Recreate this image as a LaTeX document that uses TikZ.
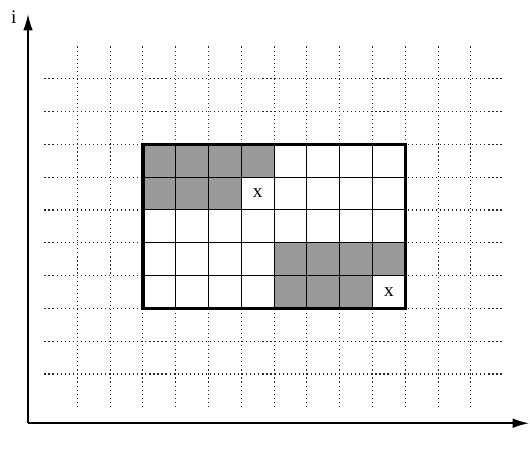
\documentclass[tikz,border=0pt]{standalone}
\usepackage{fontspec}
\setmainfont{Liberation Serif}
\usetikzlibrary{arrows.meta}
\definecolor{CellGray}{RGB}{153,153,153}
\tikzset{
  gridline/.style={draw=black!85,dash pattern=on 0.6pt off 1.5pt,line width=0.55pt},
  cellline/.style={draw=black,line width=0.5pt},
  border/.style={draw=black,line width=1.8pt},
  axis/.style={draw=black,line width=0.8pt,-{Latex[length=8.5pt,width=5pt]}},
  cellmark/.style={inner sep=0pt,font=\normalsize},
}

\begin{document}
\begin{tikzpicture}[x=0.6cm,y=0.6cm]
  \useasboundingbox (-0.854,-0.884) rectangle (15.30,12.90);
  % dotted background grid
  \foreach \x in {1.5,2.5,...,13.5} \draw[gridline] (\x,0.5) -- (\x,11.5);
  \foreach \y in {1.5,2.5,...,10.5} \draw[gridline] (0.5,\y) -- (14.5,\y);
  % window
  \fill[white] (3.5,3.5) rectangle (11.5,8.5);
  \fill[CellGray] (3.5,8.5) -- (7.5,8.5) -- (7.5,7.5) -- (6.5,7.5) -- (6.5,6.5) -- (3.5,6.5) -- cycle;
  \fill[CellGray] (7.5,5.5) -- (11.5,5.5) -- (11.5,4.5) -- (10.5,4.5) -- (10.5,3.5) -- (7.5,3.5) -- cycle;
  \foreach \x in {4.5,5.5,...,10.5} \draw[cellline] (\x,3.5) -- (\x,8.5);
  \foreach \y in {4.5,5.5,...,7.5} \draw[cellline] (3.5,\y) -- (11.5,\y);
  \draw[border] (3.5,3.5) rectangle (11.5,8.5);
  \node[cellmark] (xa) at (7,7) {x};
  \node[cellmark] (xb) at (11,4) {x};
  % axes
  \coordinate (o) at (0,0);
  \coordinate (itip) at (0,12.47);
  \coordinate (jtip) at (15.27,0);
  \draw[axis] (o) -- (itip);
  \draw[axis] (o) -- (jtip);
  \node (ilabel) at (-0.43,12.38) {i};
  \node (jlabel) at (15.55,-0.78) {j};
\end{tikzpicture}
\end{document}
